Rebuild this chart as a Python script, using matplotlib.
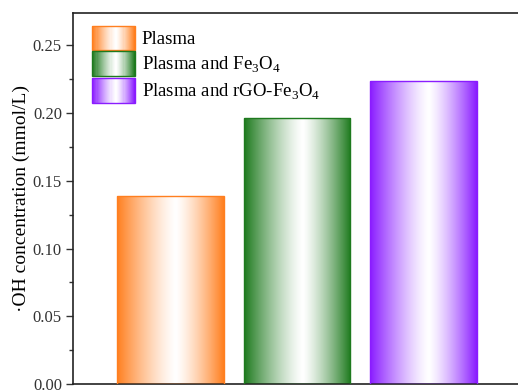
import numpy as np
import matplotlib
matplotlib.use('Agg')
import matplotlib.pyplot as plt
from matplotlib.patches import Rectangle
from matplotlib.legend_handler import HandlerPatch
from matplotlib.colors import to_rgb

plt.rcParams['font.family'] = 'Liberation Serif'
plt.rcParams['mathtext.fontset'] = 'custom'
plt.rcParams['mathtext.rm'] = 'Liberation Serif'

# data
labels = ['Plasma', 'Plasma and Fe$_3$O$_4$', 'Plasma and rGO-Fe$_3$O$_4$']
values = [0.139, 0.1965, 0.224]
colors = ['#FF7F1F', '#1E7A1E', '#8A1CFF']
positions = [1, 2, 3]
width = 0.84


def gradient_rgba(color, n=256, center=0.55):
    c = np.array(to_rgb(color))
    x = np.linspace(0, 1, n)
    t = np.where(x < center, (center - x) / center, (x - center) / (1 - center))
    t = t ** 1.3
    rgb = (1 - t)[:, None] * 1.0 + t[:, None] * c[None, :]
    return rgb


class GradientHandler(HandlerPatch):
    def create_artists(self, legend, orig_handle, xdescent, ydescent,
                       width, height, fontsize, trans):
        col = orig_handle.get_edgecolor()
        n = 40
        rgb = gradient_rgba(col, n)
        x0, y0 = -xdescent, -ydescent - 0.25 * height
        h = height * 1.5
        arts = []
        for i in range(n):
            r = Rectangle((x0 + i * width / n, y0), width / n + 0.3, h,
                          facecolor=rgb[i], edgecolor='none', transform=trans)
            arts.append(r)
        arts.append(Rectangle((x0, y0), width, h, facecolor='none',
                              edgecolor=col, lw=1.0, transform=trans))
        return arts


fig = plt.figure(figsize=(5.18, 3.90), dpi=100)
ax = fig.add_axes([73 / 518, 6 / 390, (530 - 73) / 518, (384 - 13) / 390])

for x, v, c in zip(positions, values, colors):
    bar = ax.bar(x, v, width=width, facecolor='none', edgecolor=c,
                 linewidth=1.0, zorder=3)[0]
    rgb = gradient_rgba(c)
    img = ax.imshow(rgb[None, :, :], aspect='auto',
                    extent=[x - width / 2, x + width / 2, 0, v],
                    zorder=2, interpolation='bilinear')
    img.set_clip_path(bar)

ax.set_xlim(0.23, 3.84)
ax.set_ylim(0, 0.274)
ax.set_xticks([])
ax.set_yticks([0, 0.05, 0.10, 0.15, 0.20, 0.25])
ax.set_yticklabels(['0.00', '0.05', '0.10', '0.15', '0.20', '0.25'])
ax.set_yticks([0.025, 0.075, 0.125, 0.175, 0.225], minor=True)
ax.tick_params(axis='y', which='major', direction='out', length=5, width=1,
               labelsize=12, pad=3, colors='#333333')
ax.tick_params(axis='y', which='minor', direction='out', length=3, width=1,
               colors='#333333')
for s in ax.spines.values():
    s.set_linewidth(1.2)
    s.set_color('#222222')
ax.set_ylabel('\u00b7OH concentration (mmol/L)', fontsize=14, labelpad=2)

handles = [Rectangle((0, 0), 1, 1, edgecolor=c, facecolor='none') for c in colors]
leg = ax.legend(handles, labels, loc='upper left', bbox_to_anchor=(0.005, 1.0),
                frameon=False, fontsize=13.5, handlelength=2.3, handleheight=0.95,
                handletextpad=0.35, labelspacing=0.35,
                handler_map={Rectangle: GradientHandler()})

fig.savefig('out.png', dpi=100)
